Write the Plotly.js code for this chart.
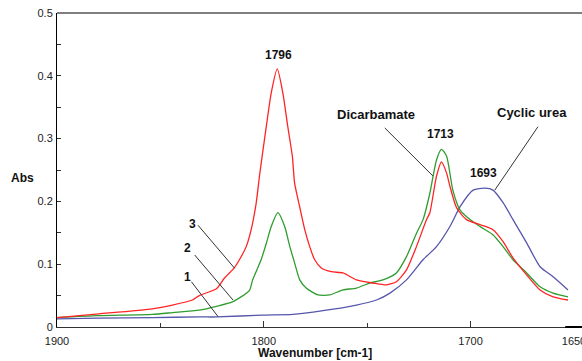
<!DOCTYPE html>
<html>
<head>
<meta charset="utf-8">
<script src="https://cdn.plot.ly/plotly-3.0.1.min.js"></script>
<style>html,body{margin:0;padding:0;background:#fff;}#chart{width:582px;height:361px;}</style>
</head>
<body>
<div id="chart"></div>
<script>
// Spectrum 3 (red)
const wn3 = [1900,1879.6,1853.9,1844.2,1834.5,1831.2,1822.9,1819,1814.3,1811.8,1808.5,1806.1,1803.7,1802.1,1800.8,1798.8,1796.4,1793.5,1790.8,1788.4,1786.2,1785.1,1782.7,1780.2,1777.8,1775.4,1772.2,1767.3,1761.7,1755.2,1747.2,1740.7,1735.9,1731,1726.2,1721.3,1719.7,1716.5,1714.1,1711.6,1710,1706.8,1702,1695.5,1689.2,1684.3,1679.5,1672.9,1666.4,1660.1,1652.9];
const abs3 = [0.015,0.021,0.029,0.035,0.043,0.050,0.061,0.078,0.094,0.107,0.128,0.155,0.197,0.240,0.272,0.319,0.373,0.411,0.373,0.319,0.272,0.229,0.192,0.155,0.128,0.107,0.094,0.088,0.086,0.075,0.070,0.067,0.072,0.091,0.128,0.171,0.182,0.240,0.263,0.245,0.224,0.190,0.171,0.163,0.155,0.136,0.110,0.083,0.059,0.048,0.043];
// Spectrum 2 (green)
const wn2 = [1900,1880,1853.9,1844,1831.2,1822.9,1815.2,1807,1805.4,1801.3,1798.8,1796.4,1793.2,1789.9,1787.4,1785,1782.6,1779.5,1773.8,1768.2,1761.7,1755.2,1748.8,1742.4,1735.9,1731,1726.2,1723,1719.7,1716.5,1714.1,1711.6,1708.6,1705.2,1700.3,1695.5,1689.2,1684.3,1679.5,1672.9,1666.4,1660.1,1652.9];
const abs2 = [0.015,0.018,0.020,0.023,0.027,0.033,0.040,0.058,0.075,0.107,0.133,0.160,0.182,0.160,0.128,0.101,0.075,0.062,0.051,0.051,0.059,0.062,0.070,0.075,0.086,0.112,0.149,0.171,0.213,0.266,0.283,0.272,0.218,0.187,0.171,0.160,0.147,0.128,0.107,0.086,0.064,0.054,0.048];
// Spectrum 1 (blue)
const wn1 = [1900,1880,1853.9,1831,1822.9,1800,1786,1771.4,1755.2,1745.5,1739,1731,1723,1716.5,1710,1705,1698.8,1693,1689.2,1684.3,1679.5,1672.9,1666.4,1660.1,1652.9];
const abs1 = [0.013,0.014,0.015,0.016,0.016,0.019,0.020,0.026,0.035,0.043,0.054,0.075,0.107,0.128,0.160,0.192,0.218,0.221,0.218,0.198,0.171,0.134,0.096,0.080,0.059];

const xTickVals = [1900,1800,1700,1650];
const xTickText = ['1900','1800','1700','1650'];
const yTickVals = [0,0.1,0.2,0.3,0.4,0.5];
const yTickText = ['0','0.1','0.2','0.3','0.4','0.5'];

// Labels: [text, wavenumber, abs]
const peakLabels = [['1796',1793.1,0.433],['1713',1714.6,0.307],['1693',1693.7,0.246]];
const nameLabels = [['Dicarbamate',1745.9,0.3376],['Cyclic urea',1670.4,0.341],['3',1834.5,0.164],['2',1836.8,0.126],['1',1836.9,0.080]];
// Leader lines: [x0,y0,x1,y1] in data coords
const leaders = [[1831.8,0.162,1814.1,0.0935],[1833.4,0.1146,1814.9,0.043],[1835,0.0721,1822.1,0.0164],[1741.5,0.317,1718.2,0.2404],[1667.4,0.319,1688.3,0.218]];

const FONT = 'Liberation Sans, Arial, sans-serif';
const lineCommon = {mode:'lines', line:{width:1.3, shape:'spline', smoothing:0.6}, hoverinfo:'skip', showlegend:false};
const traces = [
  Object.assign({}, lineCommon, {x:wn1, y:abs1, line:Object.assign({}, lineCommon.line, {color:'#5656ad'})}),
  Object.assign({}, lineCommon, {x:wn2, y:abs2, line:Object.assign({}, lineCommon.line, {color:'#2f9c2f'})}),
  Object.assign({}, lineCommon, {x:wn3, y:abs3, line:Object.assign({}, lineCommon.line, {color:'#ff2424'})})
];

const annotations = [];
peakLabels.concat(nameLabels).forEach(function(l){
  annotations.push({x:l[1], y:l[2], xref:'x', yref:'y', text:'<b>'+l[0]+'</b>', showarrow:false,
    font:{family:FONT, size:(l[0].length>4?13:12), color:'#111'}, xanchor:'center', yanchor:'middle'});
});
annotations.push({x:-0.066, y:0.4745, xref:'paper', yref:'paper', text:'<b>Abs</b>', showarrow:false,
  font:{family:FONT, size:12, color:'#111'}, xanchor:'center', yanchor:'middle'});
annotations.push({x:0.499, y:-0.083, xref:'paper', yref:'paper', text:'<b>Wavenumber [cm-1]</b>', showarrow:false,
  font:{family:FONT, size:12, color:'#111'}, xanchor:'center', yanchor:'middle'});

const shapes = leaders.map(function(s){
  return {type:'line', xref:'x', yref:'y', x0:s[0], y0:s[1], x1:s[2], y1:s[3], line:{color:'#333', width:1}};
});
shapes.push({type:'line', xref:'paper', yref:'paper', x0:0, x1:1.05, y0:1, y1:1, line:{color:'#000', width:1}});
shapes.push({type:'line', xref:'paper', yref:'paper', x0:0.983, x1:1.05, y0:0, y1:0, line:{color:'#000', width:2}});

const layout = {
  width:582, height:361,
  margin:{l:57, r:8, t:13, b:34},
  paper_bgcolor:'#ffffff', plot_bgcolor:'#ffffff',
  font:{family:FONT, size:11, color:'#222'},
  xaxis:{range:[1900,1650], autorange:false, showgrid:false, zeroline:false,
    showline:true, linecolor:'#333', linewidth:1,
    tickmode:'array', tickvals:xTickVals, ticktext:xTickText,
    ticks:'inside', ticklen:6, tickcolor:'#333', tickwidth:1,
    ticklabelstandoff:4, ticklabeloverflow:'allow',
    minor:{tickmode:'array', tickvals:[1850,1750], ticks:'inside', ticklen:4, tickcolor:'#333'},
    tickfont:{family:FONT, size:11, color:'#222'}},
  yaxis:{range:[0,0.5], autorange:false, showgrid:false, zeroline:false,
    showline:true, linecolor:'#000', linewidth:1,
    tickmode:'array', tickvals:yTickVals, ticktext:yTickText,
    ticks:'inside', ticklen:4, tickcolor:'#333', tickwidth:1,
    ticklabelstandoff:1,
    minor:{tickmode:'array', tickvals:[0.05,0.15,0.25,0.35,0.45], ticks:'inside', ticklen:4, tickcolor:'#333'},
    tickfont:{family:FONT, size:11, color:'#222'}},
  annotations:annotations,
  shapes:shapes
};

Plotly.newPlot('chart', traces, layout, {displayModeBar:false, staticPlot:true});
</script>
</body>
</html>
